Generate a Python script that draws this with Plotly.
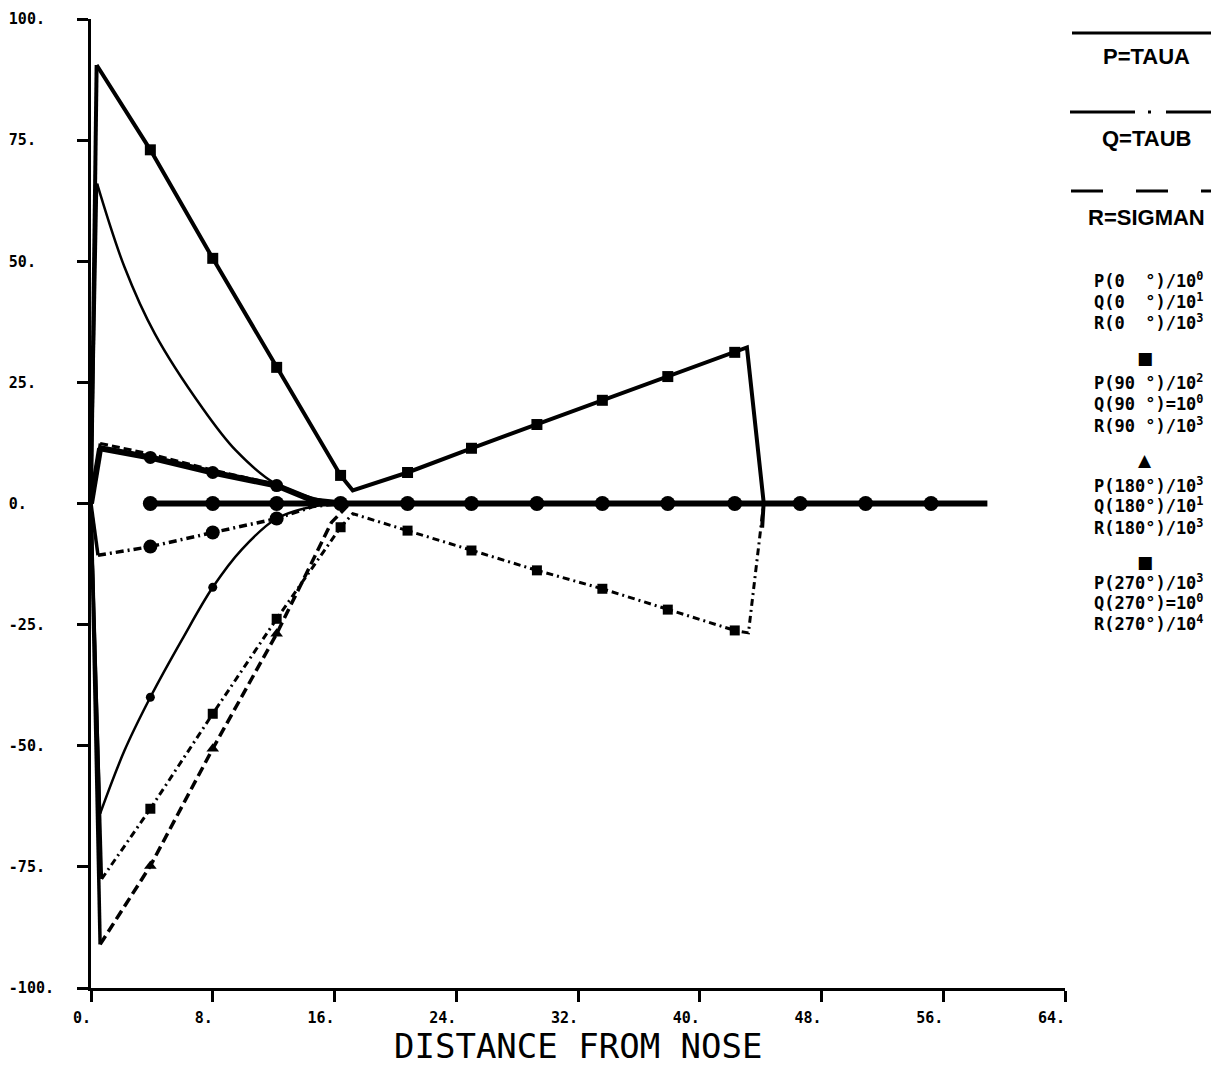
import plotly.graph_objects as go

# ---------------- data ----------------
X_TICKS = [0, 8, 16, 24, 32, 40, 48, 56, 64]
X_TICK_TEXT = ["0.", "8.", "16.", "24.", "32.", "40.", "48.", "56.", "64."]
Y_TICKS = [-100, -75, -50, -25, 0, 25, 50, 75, 100]
Y_TICK_TEXT = ["-100.", "-75.", "-50.", "-25.", "0.", "25.", "50.", "75.", "100."]
X_TITLE = "DISTANCE FROM NOSE"

# stations where the plotter put its symbols
STATIONS = [3.9, 8.0, 12.2, 16.4, 20.8, 25.0, 29.3, 33.6, 37.9, 42.3, 46.6, 50.9, 55.2]

# P(90) solid with squares
p90_x = [0, 0.37, 3.9, 8.0, 12.2, 16.4, 17.2, 20.8, 25.0, 29.3, 33.6, 37.9, 42.3, 43.1, 44.2, 44.1]
p90_y = [0, 90.5, 73.0, 50.6, 28.1, 5.8, 2.7, 6.4, 11.4, 16.3, 21.3, 26.2, 31.2, 32.2, 0.2, -5.0]

# Q(90) dash-dot with squares
q90_x = [0, 0.7, 3.9, 8.0, 12.2, 16.4, 17.2, 20.8, 25.0, 29.3, 33.6, 37.9, 42.3, 43.2, 44.2]
q90_y = [0, -77.5, -63.0, -43.4, -23.8, -4.9, -2.1, -5.6, -9.7, -13.8, -17.6, -21.9, -26.2, -26.7, 0.0]

# P(0) thick bundle with circles
p0_x = [0, 0.6, 3.9, 8.0, 12.2, 14.6, 16.5]
p0_y = [0, 11.4, 9.5, 6.4, 3.7, 0.6, 0.0]
r0_y = [0, 12.4, 10.2, 6.9, 3.9, 0.8, 0.0]

# Q(0) dash-dot with circles
q0_x = [0, 0.46, 3.9, 8.0, 12.2, 14.6, 16.5]
q0_y = [0, -10.7, -8.9, -6.0, -3.1, -0.6, 0.0]

# P(180) smooth solid curve
p180_x = [0, 0.4, 2.2, 4.2, 7.3, 9.5, 12.1, 14.5, 16.5]
p180_y = [0, 66.0, 48.8, 35.0, 19.8, 11.0, 4.1, 1.2, 0.0]

# R(180) dashed with triangles
r180_x = [0, 0.6, 3.9, 8.0, 12.2, 15.8, 17.0]
r180_y = [0, -91.0, -74.8, -50.6, -26.9, -3.9, 0.0]

# P(270) solid, small symbols
p270_x = [0, 0.6, 2.2, 3.9, 6.0, 8.0, 9.9, 12.2, 14.6, 16.5]
p270_y = [0, -64.0, -51.0, -40.0, -28.0, -17.3, -9.5, -3.1, -0.6, 0.0]

# curves lying on zero
zero_x = [0, 3.9, 8.0, 12.2, 16.4, 20.8, 25.0, 29.3, 33.6, 37.9, 42.3, 46.6, 50.9, 55.2, 58.9]
zero_y = [0] * len(zero_x)
zero_tail_x = [0, 63.8]
zero_tail_y = [0, 0]

# legend texts
LEGEND_HEAD = ["P=TAUA", "Q=TAUB", "R=SIGMAN"]
LEGEND_ROWS = [
    "P(0  °)/10<sup>0</sup>", "Q(0  °)/10<sup>1</sup>", "R(0  °)/10<sup>3</sup>",
    "P(90 °)/10<sup>2</sup>", "Q(90 °)=10<sup>0</sup>", "R(90 °)/10<sup>3</sup>",
    "P(180°)/10<sup>3</sup>", "Q(180°)/10<sup>1</sup>", "R(180°)/10<sup>3</sup>",
    "P(270°)/10<sup>3</sup>", "Q(270°)=10<sup>0</sup>", "R(270°)/10<sup>4</sup>",
]
LEGEND_SYMBOLS = ["■", "▲", "■"]

# ---------------- figure ----------------
# the page body has an 8 px margin, so the figure is placed at (8, 8)
OFF = 8
W, H = 1219 - OFF, 1070 - OFF
X0, X1, Y0, Y1 = 91, 1065, 19, 988          # plot area in window pixels
L, R, T, B = X0 - OFF, 1219 - X1, Y0 - OFF, 1070 - Y1
PW, PH = X1 - X0, Y1 - Y0


def px(xp):
    return (xp - X0) / PW


def py(yp):
    return (Y1 - yp) / PH


fig = go.Figure()


def add_curve(x, y, dash="solid", width=2.5, symbol=None, msize=10, spline=False, spike=True):
    if spike:
        fig.add_trace(go.Scatter(x=x[:2], y=y[:2], mode="lines",
                                 line=dict(color="black", width=width),
                                 showlegend=False, hoverinfo="skip"))
    fig.add_trace(go.Scatter(x=x[1:], y=y[1:], mode="lines",
                             line=dict(color="black", width=width, dash=dash,
                                       shape="spline" if spline else "linear"),
                             showlegend=False, hoverinfo="skip"))
    if symbol:
        mx, my = [], []
        for a, b in zip(x, y):
            if any(abs(a - s) < 0.05 for s in STATIONS):
                mx.append(a)
                my.append(b)
        fig.add_trace(go.Scatter(x=mx, y=my, mode="markers",
                                 marker=dict(symbol=symbol, size=msize, color="black"),
                                 showlegend=False, hoverinfo="skip"))


add_curve(zero_tail_x, zero_tail_y, width=2, spike=False)
add_curve(zero_x, zero_y, width=6, symbol="circle", msize=15, spike=False)
add_curve(p0_x, r0_y, dash="8px,4px", width=3)
add_curve(p0_x, p0_y, width=6, symbol="circle", msize=13)
add_curve(p90_x, p90_y, width=4, symbol="square", msize=11)
add_curve(q90_x, q90_y, dash="7px,4px,2px,4px", width=3, symbol="square", msize=10)
add_curve(q0_x, q0_y, dash="8px,4px,2px,4px", width=3.5, symbol="circle", msize=14)
add_curve(p180_x, p180_y, width=2.5, spline=True)
add_curve(r180_x, r180_y, dash="10px,5px", width=3.5, symbol="triangle-up", msize=11)
add_curve(p270_x, p270_y, width=2.5, symbol="circle", msize=9, spline=True)

# legend line samples
fig.add_shape(type="line", xref="paper", yref="paper", x0=px(1072), x1=px(1219), y0=py(33), y1=py(33),
              line=dict(color="black", width=3))
fig.add_shape(type="line", xref="paper", yref="paper", x0=px(1070), x1=px(1219), y0=py(112), y1=py(112),
              line=dict(color="black", width=3, dash="65px,13px,3px,15px"))
fig.add_shape(type="line", xref="paper", yref="paper", x0=px(1071), x1=px(1219), y0=py(191), y1=py(191),
              line=dict(color="black", width=3, dash="32px,33px"))

head_y = [57, 138, 217]
for txt, yy in zip(LEGEND_HEAD, head_y):
    fig.add_annotation(text=txt, xref="paper", yref="paper", x=px(1146), y=py(yy),
                       xanchor="center", yanchor="middle", showarrow=False,
                       font=dict(family="Liberation Sans", size=22, color="black", weight="bold"))

row_y = [280, 301, 322, 382, 403, 425, 485, 505, 527, 582, 602, 623]
for txt, yy in zip(LEGEND_ROWS, row_y):
    fig.add_annotation(text=txt, xref="paper", yref="paper", x=px(1092), y=py(yy),
                       xanchor="left", yanchor="middle", showarrow=False,
                       font=dict(family="DejaVu Sans Mono", size=17, color="black", weight="bold"))

sym_y = [358, 460, 562]
for txt, yy in zip(LEGEND_SYMBOLS, sym_y):
    fig.add_annotation(text=txt, xref="paper", yref="paper", x=px(1145), y=py(yy),
                       xanchor="center", yanchor="middle", showarrow=False,
                       font=dict(family="DejaVu Sans", size=17, color="black"))

# axis title placed under the tick labels
fig.add_annotation(text=X_TITLE, xref="paper", yref="paper", x=px(578), y=py(1046),
                   xanchor="center", yanchor="middle", showarrow=False,
                   font=dict(family="DejaVu Sans Mono", size=34, color="black"))

NB = "\u00a0"
x_text = [t + NB * (2 if len(t) == 2 else 3) for t in X_TICK_TEXT]
y_text = [t + NB * (5 - len(t)) for t in Y_TICK_TEXT]

tickfont = dict(family="DejaVu Sans Mono", size=15, color="black", weight="bold")

fig.update_layout(
    width=W, height=H,
    margin=dict(l=L, r=R, t=T, b=B, pad=0, autoexpand=False),
    paper_bgcolor="white", plot_bgcolor="white",
    showlegend=False,
    xaxis=dict(range=[0, 64], tickmode="array", tickvals=X_TICKS, ticktext=x_text,
               automargin=False,
               showgrid=False, zeroline=False, showline=True, linecolor="black", linewidth=3,
               ticks="outside", ticklen=11, tickwidth=2.5, tickcolor="black",
               tickfont=tickfont, ticklabelstandoff=3),
    yaxis=dict(range=[-100, 100], tickmode="array", tickvals=Y_TICKS, ticktext=y_text,
               automargin=False,
               showgrid=False, zeroline=False, showline=True, linecolor="black", linewidth=3,
               ticks="outside", ticklen=11, tickwidth=2.5, tickcolor="black",
               tickfont=tickfont, ticklabelstandoff=20),
)

fig.write_html("out.html")
